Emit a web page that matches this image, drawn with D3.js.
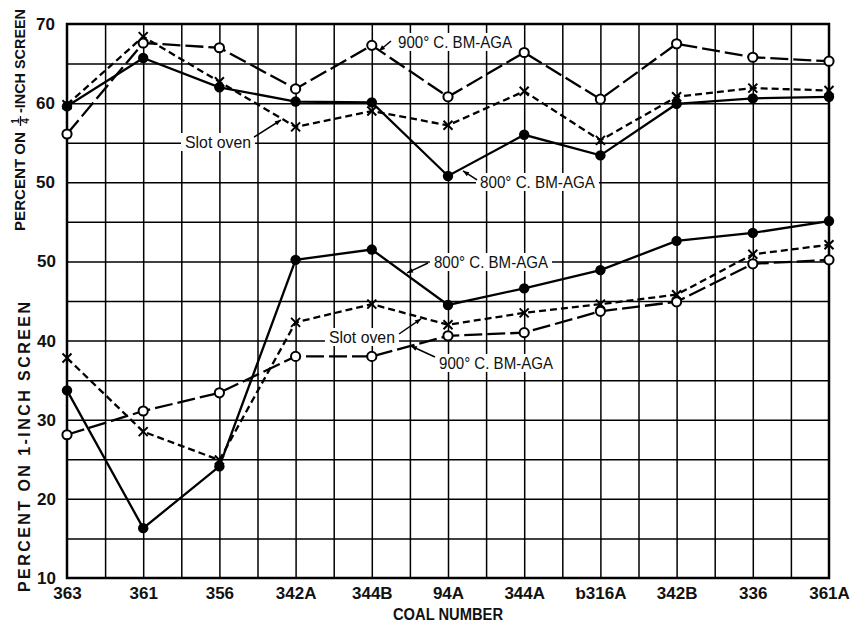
<!DOCTYPE html>
<html><head><meta charset="utf-8">
<script src="https://cdn.jsdelivr.net/npm/d3@7"></script>
<style>body{margin:0;background:#fff;} svg{display:block;}</style>
</head><body>
<svg id="c" width="859" height="626"></svg>
<script>
const categories = ["363","361","356","342A","344B","94A","344A","ƅ316A","342B","336","361A"];
// Upper panel: percent on 1/4-inch screen
const quarter800  = [59.6,65.7,62.0,60.2,60.1,50.8,56.0,53.4,59.9,60.6,60.8];
const quarter900  = [56.1,67.6,67.0,61.8,67.3,60.8,66.4,60.5,67.5,65.8,65.3];
const quarterSlot = [59.8,68.4,62.7,57.0,59.0,57.2,61.5,55.3,60.8,61.9,61.6];
// Lower panel: percent on 1-inch screen
const inch800  = [33.7,16.3,24.1,50.2,51.5,44.5,46.6,48.9,52.6,53.6,55.1];
const inchSlot = [37.8,28.5,24.9,42.3,44.6,42.0,43.5,44.6,45.8,50.9,52.1];
const inch900  = [28.1,31.1,33.4,38.0,38.0,40.6,41.0,43.7,44.9,49.7,50.2];
const upperTicks = [50,60,70];
const lowerTicks = [10,20,30,40,50];
const annotations = [
  {label:"900° C. BM-AGA", panel:"upper", ti:4.344, tv:67.73, w:114, from:[4.252,67.85], to:[4.094,66.59]},
  {label:"Slot oven",      panel:"upper", ti:1.549, tv:55.09, w:66,  from:[2.454,55.72], to:[2.808,57.87]},
  {label:"800° C. BM-AGA", panel:"upper", ti:5.420, tv:50.04, w:115, from:[5.381,50.29], to:[5.197,51.43]},
  {label:"800° C. BM-AGA", panel:"lower", ti:4.816, tv:49.93, w:114, from:[4.738,49.80], to:[4.462,48.55]},
  {label:"Slot oven",      panel:"lower", ti:3.438, tv:40.45, w:66,  from:[4.357,40.83], to:[4.646,42.73]},
  {label:"900° C. BM-AGA", panel:"lower", ti:4.882, tv:37.17, w:114, from:[4.829,37.93], to:[4.514,39.32]}
];

const svg = d3.select("#c");
const FONT = "'Liberation Sans', Arial, Helvetica, sans-serif";
const pL=67, pR=829, pT=24, pB=578;
const x = d3.scalePoint().domain(categories).range([pL,pR]);
const xIdx = d3.scaleLinear().domain([0,categories.length-1]).range([pL,pR]);
const yGrid = d3.scaleLinear().domain([10,80]).range([pB,pT]);
const yLow = d3.scaleLinear().domain([10,50]).range([yGrid(10), yGrid(50)]);
const yHigh = d3.scaleLinear().domain([50,70]).range([yGrid(60), yGrid(80)]);
const yP = p => p==="upper" ? yHigh : yLow;

svg.append("rect").attr("width",859).attr("height",626).attr("fill","#fff");

// grid
const gH = svg.append("g").attr("transform",`translate(${pL},0)`)
  .call(d3.axisLeft(yGrid).tickValues(d3.range(15,80,5)).tickSize(-(pR-pL)).tickFormat(""));
gH.select(".domain").remove();
gH.selectAll("line").attr("stroke","#000").attr("stroke-width",1.5);
const gV = svg.append("g").attr("transform",`translate(0,${pT})`)
  .call(d3.axisBottom(xIdx).tickValues(d3.range(0.5,10,0.5)).tickSize(pB-pT).tickFormat(""));
gV.select(".domain").remove();
gV.selectAll("line").attr("stroke","#000").attr("stroke-width",1.5);
svg.append("rect").attr("x",pL).attr("y",pT).attr("width",pR-pL).attr("height",pB-pT)
  .attr("fill","none").attr("stroke","#000").attr("stroke-width",2.5);

// axes labels
const axU = svg.append("g").attr("transform",`translate(${pL},0)`)
  .call(d3.axisLeft(yHigh).tickValues(upperTicks).tickSize(0).tickPadding(12));
const axLo = svg.append("g").attr("transform",`translate(${pL},0)`)
  .call(d3.axisLeft(yLow).tickValues(lowerTicks).tickSize(0).tickPadding(11));
[axU,axLo].forEach(a=>{a.select(".domain").remove();
  a.selectAll("text").attr("font-family",FONT).attr("font-size",17).attr("font-weight","bold").attr("fill","#111");});
const axX = svg.append("g").attr("transform",`translate(0,${pB})`)
  .call(d3.axisBottom(x).tickSize(0).tickPadding(9));
axX.select(".domain").remove();
axX.selectAll("text").attr("font-family",FONT).attr("font-size",17).attr("font-weight","bold").attr("fill","#111");

svg.append("text").attr("x",448).attr("y",620).attr("text-anchor","middle")
  .attr("font-family",FONT).attr("font-size",16).attr("font-weight","bold").attr("fill","#111")
  .attr("textLength",110).attr("lengthAdjust","spacingAndGlyphs").text("COAL NUMBER");

// y titles
const t1 = svg.append("g").attr("transform","translate(25,231) rotate(-90)")
  .attr("font-family",FONT).attr("font-weight","bold").attr("fill","#111");
t1.append("text").attr("x",0).attr("y",0).attr("font-size",15).attr("textLength",99).attr("lengthAdjust","spacingAndGlyphs").text("PERCENT ON");
t1.append("text").attr("x",110).attr("y",-6).attr("font-size",10).attr("text-anchor","middle").text("1");
t1.append("line").attr("x1",105).attr("x2",115).attr("y1",-4.5).attr("y2",-4.5).attr("stroke","#111").attr("stroke-width",1.3);
t1.append("text").attr("x",110).attr("y",4).attr("font-size",10).attr("text-anchor","middle").text("4");
t1.append("text").attr("x",118).attr("y",0).attr("font-size",14.5).attr("textLength",104).attr("lengthAdjust","spacingAndGlyphs").text("-INCH SCREEN");
svg.append("text").attr("transform","translate(30,592) rotate(-90)")
  .attr("font-family",FONT).attr("font-size",16).attr("font-weight","bold").attr("fill","#111")
  .attr("textLength",290).attr("lengthAdjust","spacing").text("PERCENT ON 1-INCH SCREEN");

// arrow marker
svg.append("defs").append("marker").attr("id","ah").attr("viewBox","0 0 10 10")
  .attr("refX",10).attr("refY",5).attr("markerWidth",7).attr("markerHeight",6)
  .attr("markerUnits","userSpaceOnUse").attr("orient","auto")
  .append("path").attr("d","M0,1 L10,5 L0,9 Z").attr("fill","#000");

// annotations
annotations.forEach(a=>{
  const ys = yP(a.panel);
  const tx = xIdx(a.ti), ty = ys(a.tv);
  svg.append("rect").attr("x",tx-4).attr("y",ty-9).attr("width",a.w+8).attr("height",18).attr("fill","#fff");
  svg.append("text").attr("x",tx).attr("y",ty).attr("dy","0.37em")
    .attr("font-family",FONT).attr("font-size",17).attr("fill","#111")
    .attr("textLength",a.w).attr("lengthAdjust","spacingAndGlyphs").text(a.label);
  svg.append("line").attr("x1",xIdx(a.from[0])).attr("y1",ys(a.from[1]))
    .attr("x2",xIdx(a.to[0])).attr("y2",ys(a.to[1]))
    .attr("stroke","#000").attr("stroke-width",1.5).attr("marker-end","url(#ah)");
});

// series
const series = [
  {vals:quarter900, ys:yHigh, dash:"18,5", mark:"open"},
  {vals:quarterSlot, ys:yHigh, dash:"7,4", mark:"x"},
  {vals:quarter800, ys:yHigh, dash:null, mark:"fill"},
  {vals:inch900, ys:yLow, dash:"18,5", mark:"open"},
  {vals:inchSlot, ys:yLow, dash:"7,4", mark:"x"},
  {vals:inch800, ys:yLow, dash:null, mark:"fill"}
];
series.forEach(s=>{
  const line = d3.line().x((d,i)=>x(categories[i])).y(d=>s.ys(d));
  svg.append("path").datum(s.vals).attr("d",line).attr("fill","none")
    .attr("stroke","#000").attr("stroke-width",2.3).attr("stroke-dasharray",s.dash);
});
series.forEach(s=>{
  const g = svg.append("g");
  s.vals.forEach((v,i)=>{
    const cx = x(categories[i]), cy = s.ys(v);
    if(s.mark==="open") g.append("circle").attr("cx",cx).attr("cy",cy).attr("r",4.6).attr("fill","#fff").attr("stroke","#000").attr("stroke-width",2);
    else if(s.mark==="fill") g.append("circle").attr("cx",cx).attr("cy",cy).attr("r",5.2).attr("fill","#000");
    else {
      const r=4.5;
      g.append("path").attr("d",`M${cx-r},${cy-r}L${cx+r},${cy+r}M${cx-r},${cy+r}L${cx+r},${cy-r}`)
        .attr("stroke","#000").attr("stroke-width",2).attr("fill","none");
    }
  });
});
</script>
</body></html>
